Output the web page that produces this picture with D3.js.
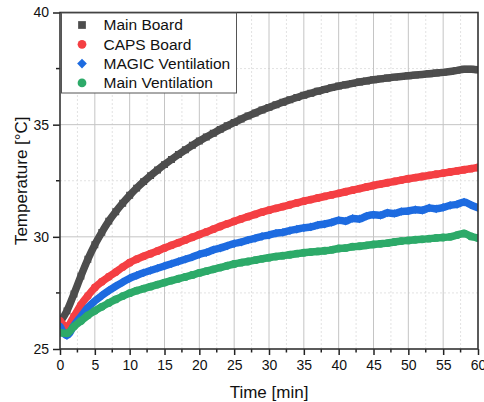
<!DOCTYPE html>
<html>
<head>
<meta charset="utf-8">
<script src="https://cdn.jsdelivr.net/npm/d3@7"></script>
<style>
  html, body { margin: 0; padding: 0; background: #fff; }
  svg { display: block; font-family: "Liberation Sans", Arial, sans-serif; }
</style>
</head>
<body>
<div id="chart"></div>
<script>
// time in minutes, one reading per minute
const times = d3.range(0, 61);

const mainBoard = [26.2, 26.7, 27.45, 28.25, 29.0, 29.65, 30.2, 30.7, 31.12, 31.5,
  31.85, 32.17, 32.46, 32.73, 32.98, 33.22, 33.45, 33.67, 33.88, 34.08,
  34.27, 34.45, 34.62, 34.79, 34.95, 35.1, 35.25, 35.39, 35.52, 35.65,
  35.77, 35.89, 36.0, 36.11, 36.21, 36.31, 36.4, 36.49, 36.57, 36.65,
  36.72, 36.78, 36.84, 36.9, 36.95, 37.0, 37.04, 37.08, 37.12, 37.15,
  37.18, 37.21, 37.24, 37.27, 37.3, 37.33, 37.37, 37.42, 37.47, 37.47, 37.45];

const capsBoard = [26.25, 26.0, 26.45, 26.97, 27.37, 27.74, 28.0, 28.22, 28.43, 28.65,
  28.85, 29.0, 29.13, 29.25, 29.37, 29.5, 29.62, 29.74, 29.86, 29.98,
  30.1, 30.22, 30.34, 30.46, 30.58, 30.69, 30.8, 30.9, 31.0, 31.1,
  31.19, 31.27, 31.35, 31.43, 31.51, 31.59, 31.66, 31.73, 31.8, 31.87,
  31.94, 32.01, 32.08, 32.15, 32.22, 32.29, 32.35, 32.41, 32.47, 32.53,
  32.59, 32.64, 32.69, 32.74, 32.79, 32.84, 32.89, 32.94, 32.99, 33.04, 33.09];

const magicVent = [26.0, 25.6, 26.05, 26.45, 26.85, 27.14, 27.38, 27.6, 27.8, 27.98,
  28.15, 28.28, 28.4, 28.5, 28.6, 28.7, 28.8, 28.9, 29.0, 29.1,
  29.22, 29.3, 29.42, 29.5, 29.6, 29.7, 29.76, 29.86, 29.93, 30.02,
  30.08, 30.16, 30.2, 30.28, 30.34, 30.4, 30.44, 30.52, 30.57, 30.64,
  30.74, 30.7, 30.82, 30.8, 30.92, 30.98, 30.96, 31.07, 31.04, 31.13,
  31.15, 31.21, 31.18, 31.29, 31.25, 31.31, 31.4, 31.45, 31.55, 31.42, 31.3];

const mainVent = [25.73, 25.7, 26.0, 26.25, 26.5, 26.7, 26.88, 27.05, 27.21, 27.36,
  27.49, 27.6, 27.69, 27.78, 27.87, 27.96, 28.05, 28.13, 28.21, 28.3,
  28.39, 28.47, 28.55, 28.63, 28.71, 28.79, 28.85, 28.9, 28.96, 29.02,
  29.07, 29.12, 29.16, 29.2, 29.25, 29.29, 29.32, 29.35, 29.38, 29.42,
  29.48, 29.5, 29.56, 29.58, 29.62, 29.66, 29.69, 29.72, 29.77, 29.81,
  29.84, 29.87, 29.89, 29.92, 29.95, 29.97, 30.0, 30.08, 30.15, 30.02, 29.95];

const seriesNames = ["Main Board", "CAPS Board", "MAGIC Ventilation", "Main Ventilation"];
const seriesValues = [mainBoard, capsBoard, magicVent, mainVent];
const seriesColors = ["#4d4d4d", "#f43f43", "#1d6be0", "#2daa69"];
const seriesSymbols = [d3.symbolSquare, d3.symbolCircle, d3.symbolDiamond2, d3.symbolPentagon || d3.symbolCircle];

const xTicks = d3.range(0, 61, 5);
const yTicks = [25, 30, 35, 40];

const width = 484, height = 402;
const margin = { top: 12.5, right: 6, bottom: 53, left: 60 };

const svg = d3.select("#chart").append("svg")
  .attr("width", width)
  .attr("height", height);

const x = d3.scaleLinear().domain([0, 60]).range([margin.left, width - margin.right]);
const y = d3.scaleLinear().domain([25, 40]).range([height - margin.bottom, margin.top]);

// grid lines, minor dashed first then major solid
const grid = svg.append("g");
d3.range(2.5, 60, 5).forEach(v => {
  grid.append("line").attr("x1", x(v)).attr("x2", x(v)).attr("y1", y(25)).attr("y2", y(40))
    .attr("stroke", "#e2e2e2").attr("stroke-dasharray", "2,2");
});
[27.5, 32.5, 37.5].forEach(v => {
  grid.append("line").attr("x1", x(0)).attr("x2", x(60)).attr("y1", y(v)).attr("y2", y(v))
    .attr("stroke", "#e2e2e2").attr("stroke-dasharray", "2,2");
});
xTicks.slice(1, -1).forEach(v => {
  grid.append("line").attr("x1", x(v)).attr("x2", x(v)).attr("y1", y(25)).attr("y2", y(40))
    .attr("stroke", "#c4c4c4");
});
yTicks.slice(1, -1).forEach(v => {
  grid.append("line").attr("x1", x(0)).attr("x2", x(60)).attr("y1", y(v)).attr("y2", y(v))
    .attr("stroke", "#c4c4c4");
});

// data
svg.append("clipPath").attr("id", "clip")
  .append("rect")
  .attr("x", x(0)).attr("y", y(40))
  .attr("width", x(60) - x(0)).attr("height", y(25) - y(40));

const line = d3.line()
  .x((d, i) => x(times[i]))
  .y(d => y(d))
  .curve(d3.curveMonotoneX);

const plot = svg.append("g").attr("clip-path", "url(#clip)");
seriesValues.forEach((vals, k) => {
  plot.append("path")
    .datum(vals)
    .attr("d", line)
    .attr("fill", "none")
    .attr("stroke", seriesColors[k])
    .attr("stroke-width", 7.5)
    .attr("stroke-linejoin", "round")
    .attr("stroke-linecap", "round");
  plot.selectAll(null)
    .data(vals)
    .join("path")
    .attr("transform", (d, i) => `translate(${x(times[i])},${y(d)})`)
    .attr("d", d3.symbol(seriesSymbols[k], 48))
    .attr("fill", seriesColors[k]);
});

// axes
const xAxis = svg.append("g")
  .attr("transform", `translate(0,${y(25)})`)
  .call(d3.axisBottom(x).tickValues(xTicks).tickSize(6).tickPadding(5));
xAxis.append("g").selectAll("line")
  .data(d3.range(2.5, 60, 5))
  .join("line")
  .attr("x1", d => x(d)).attr("x2", d => x(d))
  .attr("y1", 0).attr("y2", 3.5)
  .attr("stroke", "#222").attr("stroke-width", 1.5);

const yAxis = svg.append("g")
  .attr("transform", `translate(${x(0)},0)`)
  .call(d3.axisLeft(y).tickValues(yTicks).tickSize(7).tickPadding(4));
yAxis.append("g").selectAll("line")
  .data([27.5, 32.5, 37.5])
  .join("line")
  .attr("y1", d => y(d)).attr("y2", d => y(d))
  .attr("x1", 0).attr("x2", -4)
  .attr("stroke", "#222").attr("stroke-width", 1.5);

[xAxis, yAxis].forEach(a => {
  a.select(".domain").remove();
  a.selectAll(".tick line").attr("stroke", "#222").attr("stroke-width", 1.5);
  a.selectAll(".tick text").attr("fill", "#111").style("font-size", "14px")
    .style("font-family", "'Liberation Sans', Arial, sans-serif");
});

// frame
svg.append("rect")
  .attr("x", x(0)).attr("y", y(40))
  .attr("width", x(60) - x(0)).attr("height", y(25) - y(40))
  .attr("fill", "none")
  .attr("stroke", "#333")
  .attr("stroke-width", 1.6);

// axis titles
svg.append("text")
  .attr("x", (x(0) + x(60)) / 2)
  .attr("y", 398)
  .attr("text-anchor", "middle")
  .style("font-size", "17px")
  .attr("fill", "#111")
  .text("Time [min]");

svg.append("text")
  .attr("transform", `translate(27,${(y(25) + y(40)) / 2}) rotate(-90)`)
  .attr("text-anchor", "middle")
  .style("font-size", "17px")
  .attr("fill", "#111")
  .text("Temperature [°C]");

// legend
const legend = svg.append("g").attr("transform", "translate(61.5,13)");
legend.append("rect")
  .attr("width", 175).attr("height", 80)
  .attr("fill", "#fff")
  .attr("stroke", "#555")
  .attr("stroke-width", 1);
seriesNames.forEach((name, k) => {
  const row = legend.append("g").attr("transform", `translate(0,${12 + k * 19.3})`);
  row.append("path")
    .attr("transform", "translate(20.5,0)")
    .attr("d", d3.symbol(seriesSymbols[k], 60))
    .attr("fill", seriesColors[k]);
  row.append("text")
    .attr("x", 42)
    .attr("dy", "0.35em")
    .style("font-size", "15.5px")
    .attr("fill", "#111")
    .text(name);
});
</script>
</body>
</html>
